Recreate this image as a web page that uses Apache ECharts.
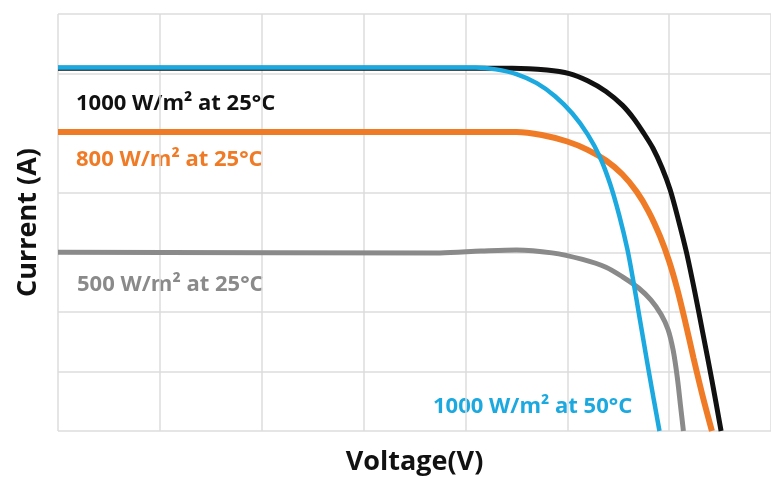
<!DOCTYPE html>
<html>
<head>
<meta charset="utf-8">
<script src="https://cdn.jsdelivr.net/npm/echarts@6/dist/echarts.min.js"></script>
<style>html,body{margin:0;padding:0;background:#fff;}#c{width:771px;height:477px;}</style>
</head>
<body>
<div id="c"></div>
<script>
// Voltage (x) and current (y) in grid units
const black1000_25 = [[0,6.09],[4.46,6.09],[4.80,6.06],[5.02,6.00],[5.20,5.88],[5.38,5.70],[5.54,5.47],[5.65,5.25],[5.75,5.00],[5.84,4.75],[5.93,4.42],[6.01,4.05],[6.09,3.55],[6.17,3.00],[6.25,2.35],[6.33,1.65],[6.42,0.85],[6.51,0]];
const blue1000_50 = [[0,6.10],[4.10,6.10],[4.30,6.07],[4.50,5.99],[4.70,5.84],[4.88,5.62],[5.05,5.33],[5.20,4.98],[5.32,4.60],[5.42,4.15],[5.51,3.62],[5.59,3.05],[5.65,2.50],[5.71,1.90],[5.78,1.20],[5.85,0.52],[5.905,0]];
const orange800_25 = [[0,5.02],[4.50,5.02],[4.75,4.97],[5.00,4.86],[5.20,4.72],[5.38,4.54],[5.54,4.31],[5.68,4.02],[5.80,3.68],[5.91,3.27],[6.00,2.85],[6.08,2.38],[6.16,1.82],[6.24,1.22],[6.33,0.58],[6.42,0]];
const gray500_25 = [[0,3.00],[3.75,2.99],[4.15,3.02],[4.50,3.04],[4.85,2.99],[5.15,2.88],[5.38,2.75],[5.55,2.58],[5.70,2.40],[5.82,2.20],[5.92,1.96],[5.99,1.70],[6.04,1.35],[6.08,0.90],[6.11,0.45],[6.14,0]];
const labels = ["1000 W/m² at 25°C","800 W/m² at 25°C","500 W/m² at 25°C","1000 W/m² at 50°C"];
const xName = "Voltage(V)";
const yName = "Current (A)";

const font = "'Open Sans', 'DejaVu Sans', sans-serif";
const chart = echarts.init(document.getElementById('c'), null, {renderer:'canvas'});
const mk = (data, color, w) => ({type:'line', data, smooth:0.3, symbol:'none', lineStyle:{color, width:w, cap:'butt'}, z:3});
chart.setOption({
  animation:false,
  grid:{left:58, top:14, width:713, height:417, containLabel:false, outerBoundsMode:'none'},
  xAxis:{type:'value', min:0, max:7, interval:1, name:xName, nameLocation:'middle', nameGap:18,
    nameTextStyle:{fontFamily:font, fontWeight:'bold', fontSize:27, color:'#111'},
    axisLine:{show:false}, axisTick:{show:false}, axisLabel:{show:false},
    splitLine:{show:true, lineStyle:{color:'#dcdcdc', width:1.5}}},
  yAxis:{type:'value', min:0, max:7, interval:1, name:yName, nameLocation:'middle', nameGap:16, nameRotate:90,
    nameTextStyle:{fontFamily:font, fontWeight:'bold', fontSize:27, color:'#111'},
    axisLine:{show:false}, axisTick:{show:false}, axisLabel:{show:false},
    splitLine:{show:true, lineStyle:{color:'#dcdcdc', width:1.5}}},
  series:[
    mk(gray500_25,'#8a8a8a',5),
    mk(orange800_25,'#f07b26',6),
    mk(black1000_25,'#111111',5),
    mk(blue1000_50,'#1ba9df',4.5)
  ],
  graphic:[
    {type:'text', x:76, y:104, style:{text:labels[0], fill:'#111', font:"bold 22px "+font, verticalAlign:'middle'}},
    {type:'text', x:76, y:160, style:{text:labels[1], fill:'#f07b26', font:"bold 22px "+font, verticalAlign:'middle'}},
    {type:'text', x:77, y:285, style:{text:labels[2], fill:'#8a8a8a', font:"bold 22px "+font, verticalAlign:'middle'}},
    {type:'text', x:433, y:407, style:{text:labels[3], fill:'#1ba9df', font:"bold 22px "+font, verticalAlign:'middle'}}
  ]
});
</script>
</body>
</html>
